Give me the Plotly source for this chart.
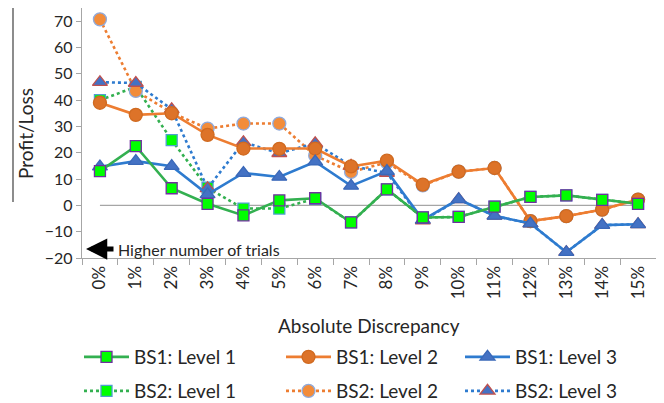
import plotly.graph_objects as go

categories = ["0%", "1%", "2%", "3%", "4%", "5%", "6%", "7%", "8%", "9%",
              "10%", "11%", "12%", "13%", "14%", "15%"]

bs1_level1 = [13.0, 22.5, 6.5, 0.6, -3.8, 1.9, 2.7, -6.5, 6.1, -4.6, -4.4, -0.5, 3.2, 3.8, 2.1, 0.6]
bs2_level1 = [40.0, 45.0, 24.8, 6.7, -1.2, -1.2, 2.5, -6.5, 6.1, -4.6, -4.4, -0.5, 3.2, 3.8, 2.1, 0.6]
bs1_level2 = [39.0, 34.4, 35.0, 26.8, 21.6, 21.5, 21.6, 14.8, 17.0, 7.9, 12.8, 14.2, -6.0, -4.1, -1.6, 2.2]
bs2_level2 = [70.7, 43.5, 35.2, 29.2, 31.1, 31.1, 18.9, 12.7, 16.3, 7.6, 12.8, 14.2, -6.0, -4.1, -1.6, 2.2]
bs1_level3 = [14.7, 16.8, 14.9, 4.2, 12.3, 10.8, 16.6, 7.4, 13.0, -5.5, 2.3, -4.0, -6.9, -17.8, -7.5, -7.2]
bs2_level3 = [46.8, 46.5, 36.5, 6.5, 24.0, 19.8, 23.6, 15.0, 12.3, -5.8, 2.3, -4.0, -6.9, -17.8, -7.5, -7.2]
zero_line = [0] * len(categories)

y_ticks = [-20, -10, 0, 10, 20, 30, 40, 50, 60, 70]

FONT = "Lato"
TXT = "#262626"
GREEN = "#33B050"
ORANGE = "#ED7D31"
BLUE = "#2E7BCF"

fig = go.Figure()

fig.add_trace(go.Scatter(x=categories, y=zero_line, mode="lines",
                         line=dict(color="#A6A6A6", width=1.3),
                         showlegend=False, hoverinfo="skip"))

series = [
    ("BS2: Level 1", bs2_level1, GREEN, "dot", "square", "#00FF00", "#4F9FCF", 11, "legend4"),
    ("BS2: Level 2", bs2_level2, ORANGE, "dot", "circle", "#F28C3A", "#8FAADC", 13, "legend5"),
    ("BS2: Level 3", bs2_level3, BLUE, "dot", "triangle-up", "#4472C4", "#C0504D", 13, "legend6"),
    ("BS1: Level 2", bs1_level2, ORANGE, "solid", "circle", "#DD7329", "#D06A20", 13, "legend2"),
    ("BS1: Level 3", bs1_level3, BLUE, "solid", "triangle-up", "#4472C4", "#3A68B8", 13, "legend3"),
    ("BS1: Level 1", bs1_level1, GREEN, "solid", "square", "#00FF00", "#7030A0", 11, "legend"),
]

for name, data, lc, dash, sym, fill, edge, size, leg in series:
    fig.add_trace(go.Scatter(
        x=categories, y=data, name=name, mode="lines+markers",
        line=dict(color=lc, width=2.6, dash=dash),
        marker=dict(symbol=sym, size=size, color=fill, line=dict(color=edge, width=1.3)),
        legend=leg,
    ))

# page has an 8px body margin: figure is drawn 8px right/down of the window origin
OFF = 8
W, H = 664 - OFF, 403 - OFF
PL, PR, PT, PB = 82, 656, 8, 258  # plot area in window pixels

leg_common = dict(orientation="h", xref="container", yref="container",
                  xanchor="left", yanchor="middle", bgcolor="rgba(0,0,0,0)",
                  font=dict(family=FONT, size=19, color=TXT), itemwidth=45)
col_x = [79, 281, 460]
row_y = [357, 391]
legend_layout = {}
names = ["legend", "legend2", "legend3", "legend4", "legend5", "legend6"]
for i, ln in enumerate(names):
    r, c = divmod(i, 3)
    legend_layout[ln] = dict(leg_common, x=(col_x[c] - OFF) / W, y=1 - (row_y[r] - OFF) / H)

fig.update_layout(
    width=W, height=H,
    margin=dict(l=PL - OFF, r=W - (PR - OFF), t=PT - OFF, b=H - (PB - OFF)),
    paper_bgcolor="white", plot_bgcolor="white",
    font=dict(family=FONT, color=TXT, size=16),
    xaxis=dict(type="category", range=[-0.5, 15.5], tickangle=-90,
               showline=True, linecolor="#A6A6A6", linewidth=1.3, mirror=True,
               ticks="outside", ticklen=6, tickcolor="#A6A6A6", tickson="boundaries",
               showgrid=False, zeroline=False,
               tickfont=dict(family=FONT, size=17, color=TXT)),
    yaxis=dict(range=[-20, 75], tickvals=y_ticks,
               showline=True, linecolor="#A6A6A6", linewidth=1.3, mirror=True,
               ticks="outside", ticklen=5, tickcolor="#A6A6A6",
               showgrid=False, zeroline=False,
               tickfont=dict(family=FONT, size=16, color=TXT)),
    showlegend=True,
    **legend_layout,
)

pw = PR - PL
ph = PB - PT

def px_x(p):
    return (p - PL) / pw

def px_y(p):
    return (PB - p) / ph

fig.add_annotation(xref="paper", yref="paper", x=px_x(25), y=px_y(134),
                   text="Profit/Loss", textangle=-90, showarrow=False,
                   font=dict(family=FONT, size=19, color=TXT),
                   xanchor="center", yanchor="middle")
fig.add_annotation(xref="paper", yref="paper", x=px_x(369), y=px_y(325),
                   text="Absolute Discrepancy", showarrow=False,
                   font=dict(family=FONT, size=19, color=TXT),
                   xanchor="center", yanchor="middle")
fig.add_annotation(xref="paper", yref="paper", x=px_x(116), y=px_y(249),
                   text="Higher number of trials", showarrow=False,
                   font=dict(family=FONT, size=16, color=TXT),
                   xanchor="left", yanchor="middle")
fig.add_annotation(xref="paper", yref="paper", x=px_x(86), y=px_y(249),
                   ax=29, ay=0, text="", showarrow=True,
                   arrowhead=2, arrowwidth=5, arrowsize=0.85, arrowcolor="black",
                   standoff=0)
fig.add_shape(type="line", xref="paper", yref="paper",
              x0=px_x(13), x1=px_x(13), y0=px_y(202), y1=px_y(7),
              line=dict(color="#404040", width=1.2))

fig.write_html("out.html")
